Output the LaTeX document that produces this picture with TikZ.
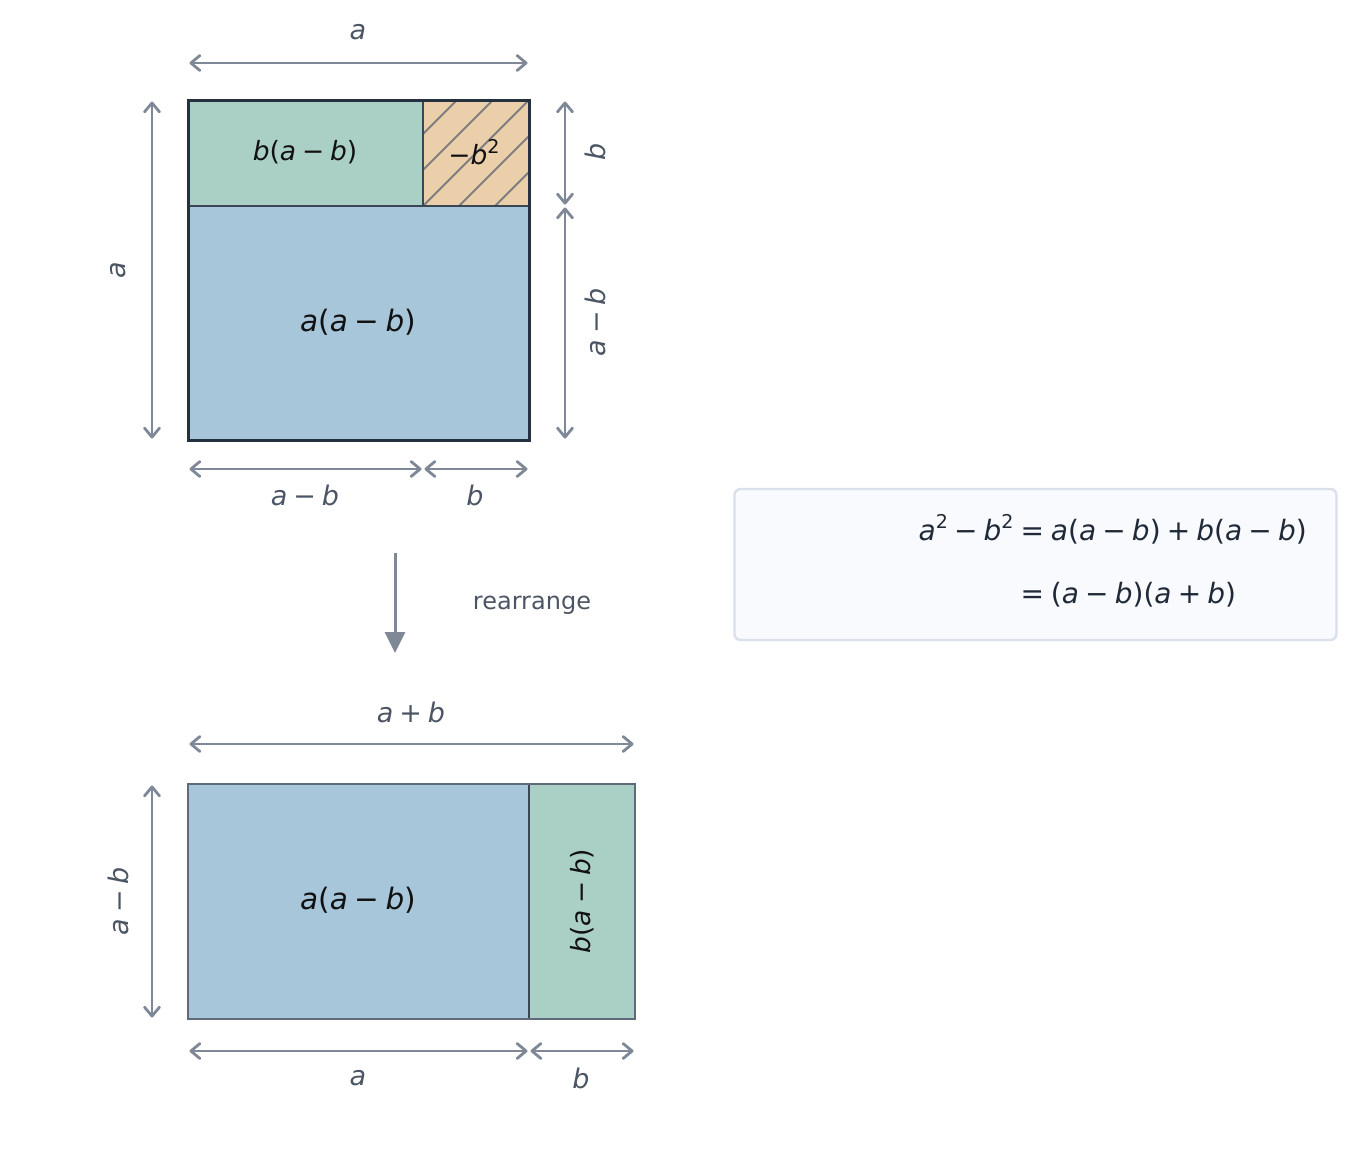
\documentclass[tikz,border=0pt]{standalone}
\usepackage{fontspec}
\setmainfont{DejaVu Sans}
\usetikzlibrary{arrows.meta}
\definecolor{cblue}{HTML}{A8C6DA}
\definecolor{cgreen}{HTML}{AACFC4}
\definecolor{corange}{HTML}{EBCFAB}
\definecolor{cdark}{HTML}{263140}
\definecolor{cmid}{HTML}{5F6B7A}
\definecolor{cinner}{HTML}{3B4654}
\definecolor{chatch}{HTML}{7E7E7E}
\definecolor{carrow}{HTML}{7F8896}
\definecolor{clabel}{HTML}{4B5563}
\definecolor{ceq}{HTML}{1F2937}
\definecolor{cin}{HTML}{111111}
\definecolor{boxfill}{HTML}{F8FAFD}
\definecolor{boxline}{HTML}{D9E0EB}
\newcommand\mv[1]{\textit{#1}}
\newcommand\mmin{\hspace{0.22em}−\hspace{0.22em}}
\newcommand\mplus{\hspace{0.22em}+\hspace{0.22em}}
\newcommand\meq{\hspace{0.25em}=\hspace{0.25em}}
\newcommand\msq{\raisebox{0.42em}{\fontsize{19}{20}\selectfont 2}}
\tikzset{
  barb/.tip={Straight Barb[length=9pt,width=15pt,line width=2.8pt,round]},
  dimline/.style={draw=carrow, line width=2.8pt, barb-barb, shorten <=1.5pt, shorten >=1.5pt},
  dimlabel/.style={text=clabel, inner sep=0pt, font=\fontsize{27}{32}\selectfont},
  inlabel/.style={text=cin, inner sep=0pt, font=\fontsize{26.5}{31}\selectfont},
  biglabel/.style={text=cin, inner sep=0pt, font=\fontsize{29.5}{34}\selectfont},
}
\begin{document}
\begin{tikzpicture}[x=1pt,y=-1pt]
\useasboundingbox[fill=white] (0,0) rectangle (1366,1152);
% ---------- top square ----------
\coordinate (TL) at (188,100);
\coordinate (TM) at (423,100);
\coordinate (TR) at (529,100);
\coordinate (ML) at (188,206);
\coordinate (MM) at (423,206);
\coordinate (MR) at (529,206);
\coordinate (BL) at (188,440);
\coordinate (BR) at (529,440);
\fill[cgreen] (TL) rectangle (MM);
\fill[corange] (TM) rectangle (MR);
\fill[cblue] (ML) rectangle (BR);
\begin{scope}
  \clip (TM) rectangle (MR);
  \foreach \k in {-4,...,6} {
    \draw[chatch, line width=2pt] (423+\k*36,206) -- ++(140,-140);
  }
\end{scope}
\draw[chatch, line width=2pt] (TM) rectangle (MR);
\draw[cinner, line width=2.4pt] (ML) -- (MR);
\draw[cinner, line width=2.4pt] (TM) -- (MM);
\draw[cdark, line width=3pt] (TL) rectangle (BR);
\node[inlabel] (lbl1) at (305,152) {\mv{b}(\mv{a}\mmin\mv{b})};
\node[inlabel] (lbl2) at (474,152) {−\mv{b}\msq};
\node[biglabel] (lbl3) at (358,322) {\mv{a}(\mv{a}\mmin\mv{b})};
% dimension arrows top
\coordinate (a1) at (188,63); \coordinate (a2) at (529,63);
\draw[dimline] (a1) -- (a2);
\node[dimlabel] (da) at (358,32) {\mv{a}};
\coordinate (l1) at (152,100); \coordinate (l2) at (152,440);
\draw[dimline] (l1) -- (l2);
\node[dimlabel, rotate=90] (dla) at (118,270) {\mv{a}};
\coordinate (r1) at (565,100); \coordinate (r2) at (565,206); \coordinate (r3) at (565,440);
\draw[dimline] (r1) -- (r2);
\draw[dimline] (r2) -- (r3);
\node[dimlabel, rotate=90] (drb) at (595,152) {\mv{b}};
\node[dimlabel, rotate=90] (drab) at (595,322) {\mv{a}\mmin\mv{b}};
\coordinate (b1) at (188,469); \coordinate (b2) at (423,469); \coordinate (b3) at (529,469);
\draw[dimline] (b1) -- (b2);
\draw[dimline] (b2) -- (b3);
\node[dimlabel] (dbab) at (305,495) {\mv{a}\mmin\mv{b}};
\node[dimlabel] (dbb) at (475,495) {\mv{b}};
% ---------- rearrange arrow ----------
\coordinate (ra1) at (395,553); \coordinate (ra2) at (395,653);
\draw[carrow, line width=3pt, -{Triangle[length=21pt,width=20pt]}] (ra1) -- (ra2);
\node[text=clabel, inner sep=0pt, font=\fontsize{24}{28}\selectfont] (rl) at (532,605) {rearrange};
% ---------- bottom rectangle ----------
\coordinate (QL) at (188,784);
\coordinate (QM) at (529,784);
\coordinate (QR) at (635,784);
\coordinate (PL) at (188,1019);
\coordinate (PM) at (529,1019);
\coordinate (PR) at (635,1019);
\fill[cblue] (QL) rectangle (PM);
\fill[cgreen] (QM) rectangle (PR);
\draw[cinner, line width=2.4pt] (QM) -- (PM);
\draw[cmid, line width=2.6pt] (QL) rectangle (PR);
\node[biglabel] (lbl4) at (358,900) {\mv{a}(\mv{a}\mmin\mv{b})};
\node[inlabel, rotate=90] (lbl5) at (582,901) {\mv{b}(\mv{a}\mmin\mv{b})};
\coordinate (c1) at (188,744); \coordinate (c2) at (635,744);
\draw[dimline] (c1) -- (c2);
\node[dimlabel] (dapb) at (411,712) {\mv{a}\mplus\mv{b}};
\coordinate (e1) at (152,784); \coordinate (e2) at (152,1019);
\draw[dimline] (e1) -- (e2);
\node[dimlabel, rotate=90] (dlab) at (118,901) {\mv{a}\mmin\mv{b}};
\coordinate (f1) at (188,1051); \coordinate (f2) at (529,1051); \coordinate (f3) at (635,1051);
\draw[dimline] (f1) -- (f2);
\draw[dimline] (f2) -- (f3);
\node[dimlabel] (dfa) at (358,1078) {\mv{a}};
\node[dimlabel] (dfb) at (581,1078) {\mv{b}};
% ---------- equation box ----------
\node[draw=boxline, fill=boxfill, line width=2.4pt, rounded corners=6pt,
      minimum width=602pt, minimum height=151pt, inner sep=0pt] (eqbox) at (1035.5,564.5) {};
\node[text=ceq, inner sep=0pt, anchor=east, font=\fontsize{28}{34}\selectfont] (eq) at (1307,564)
 {\begin{tabular}{@{}r@{}l@{}}
   \mv{a}\msq\mmin\mv{b}\msq & \meq\mv{a}(\mv{a}\mmin\mv{b})\mplus\mv{b}(\mv{a}\mmin\mv{b})\\[29pt]
    & \meq(\mv{a}\mmin\mv{b})(\mv{a}\mplus\mv{b})
  \end{tabular}};
\end{tikzpicture}
\end{document}
